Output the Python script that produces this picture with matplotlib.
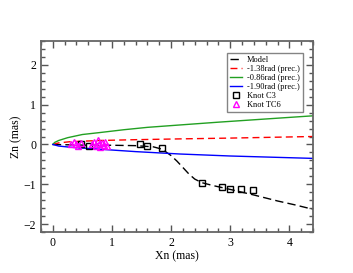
import matplotlib
matplotlib.use("Agg")
import matplotlib.pyplot as plt
from matplotlib.ticker import MultipleLocator

model_x = [0.0, 0.3, 0.6, 1.0, 1.4, 1.7, 1.85, 2.0, 2.1, 2.2, 2.3, 2.4, 2.52, 2.7, 3.0, 3.4, 3.8, 4.1, 4.4]
model_y = [0.0, -0.01, -0.02, -0.02, -0.03, -0.06, -0.12, -0.28, -0.42, -0.58, -0.74, -0.87, -0.96, -1.03, -1.13, -1.27, -1.42, -1.52, -1.63]

red_x = [0.0, 0.1, 0.3, 0.8, 1.4, 2.15, 3.0, 3.7, 4.4]
red_y = [0.0, 0.04, 0.07, 0.1, 0.12, 0.14, 0.16, 0.18, 0.2]

green_x = [0.0, 0.03, 0.1, 0.25, 0.5, 0.8, 1.2, 1.6, 2.15, 2.8, 3.5, 4.4]
green_y = [0.0, 0.05, 0.1, 0.17, 0.25, 0.3, 0.37, 0.43, 0.49, 0.56, 0.63, 0.72]

blue_x = [0.0, 0.1, 0.3, 0.8, 1.4, 2.15, 3.0, 3.7, 4.4]
blue_y = [0.0, -0.04, -0.07, -0.12, -0.18, -0.24, -0.29, -0.32, -0.35]

c3_x = [0.47, 0.62, 1.48, 1.6, 1.85, 2.52, 2.86, 3.0, 3.19, 3.39]
c3_y = [0.0, -0.04, 0.0, -0.04, -0.1, -0.96, -1.06, -1.12, -1.13, -1.15]

tc6_x = [0.3, 0.35, 0.4, 0.43, 0.47, 0.66, 0.7, 0.73, 0.76, 0.78, 0.8, 0.83, 0.86, 0.88, 0.91]
tc6_y = [0.02, 0.05, 0.0, -0.03, 0.03, 0.0, 0.06, -0.04, 0.1, 0.02, -0.07, 0.04, -0.02, 0.07, -0.04]

plt.rcParams['font.family'] = ['Liberation Serif', 'DejaVu Serif']

fig = plt.figure(figsize=(3.53, 2.73), dpi=100)
ax = fig.add_axes([41/353, 1-232/273, (313-41)/353, (232-41)/273])

ax.plot(model_x, model_y, color='black', ls=(0, (6, 3)), lw=1.0, label='Model')
ax.plot(red_x, red_y, color='red', ls=(0, (5, 3)), lw=1.0, label='-1.38rad (prec.)')
ax.plot(green_x, green_y, color='#22a022', lw=1.0, label='-0.86rad (prec.)')
ax.plot(blue_x, blue_y, color='blue', lw=1.0, label='-1.90rad (prec.)')
ax.plot(c3_x, c3_y, ls='none', marker='s', mfc='none', mec='black', ms=5, mew=1.0, label='Knot C3')
ax.plot(tc6_x, tc6_y, ls='none', marker='^', mfc='none', mec='magenta', ms=4, mew=1.0, label='Knot TC6')

ax.set_xlim(-0.2, 4.4)
ax.set_ylim(-2.2, 2.6)
ax.xaxis.set_major_locator(MultipleLocator(1))
ax.xaxis.set_minor_locator(MultipleLocator(0.2))
ax.yaxis.set_major_locator(MultipleLocator(1))
ax.yaxis.set_minor_locator(MultipleLocator(0.2))
ax.tick_params(which='both', direction='in', top=True, right=True, colors='#555555', labelcolor='black', labelsize=8.5)
ax.tick_params(which='major', length=5, width=1)
ax.tick_params(which='minor', length=3, width=1)
for s in ax.spines.values():
    s.set_color('#666666')
    s.set_linewidth(1.3)

ax.set_xlabel('Xn (mas)', fontsize=8.5, labelpad=1)
ax.set_ylabel('Zn (mas)', fontsize=8.5, labelpad=1)

leg = ax.legend(loc='upper right', bbox_to_anchor=(0.962, 0.935), fontsize=6, frameon=True, fancybox=False,
                edgecolor='#666666', handlelength=1.4, borderpad=0.35, labelspacing=0.12, handletextpad=0.6,
                borderaxespad=0)
leg.get_frame().set_linewidth(1.0)

fig.savefig('out.png', dpi=100)
